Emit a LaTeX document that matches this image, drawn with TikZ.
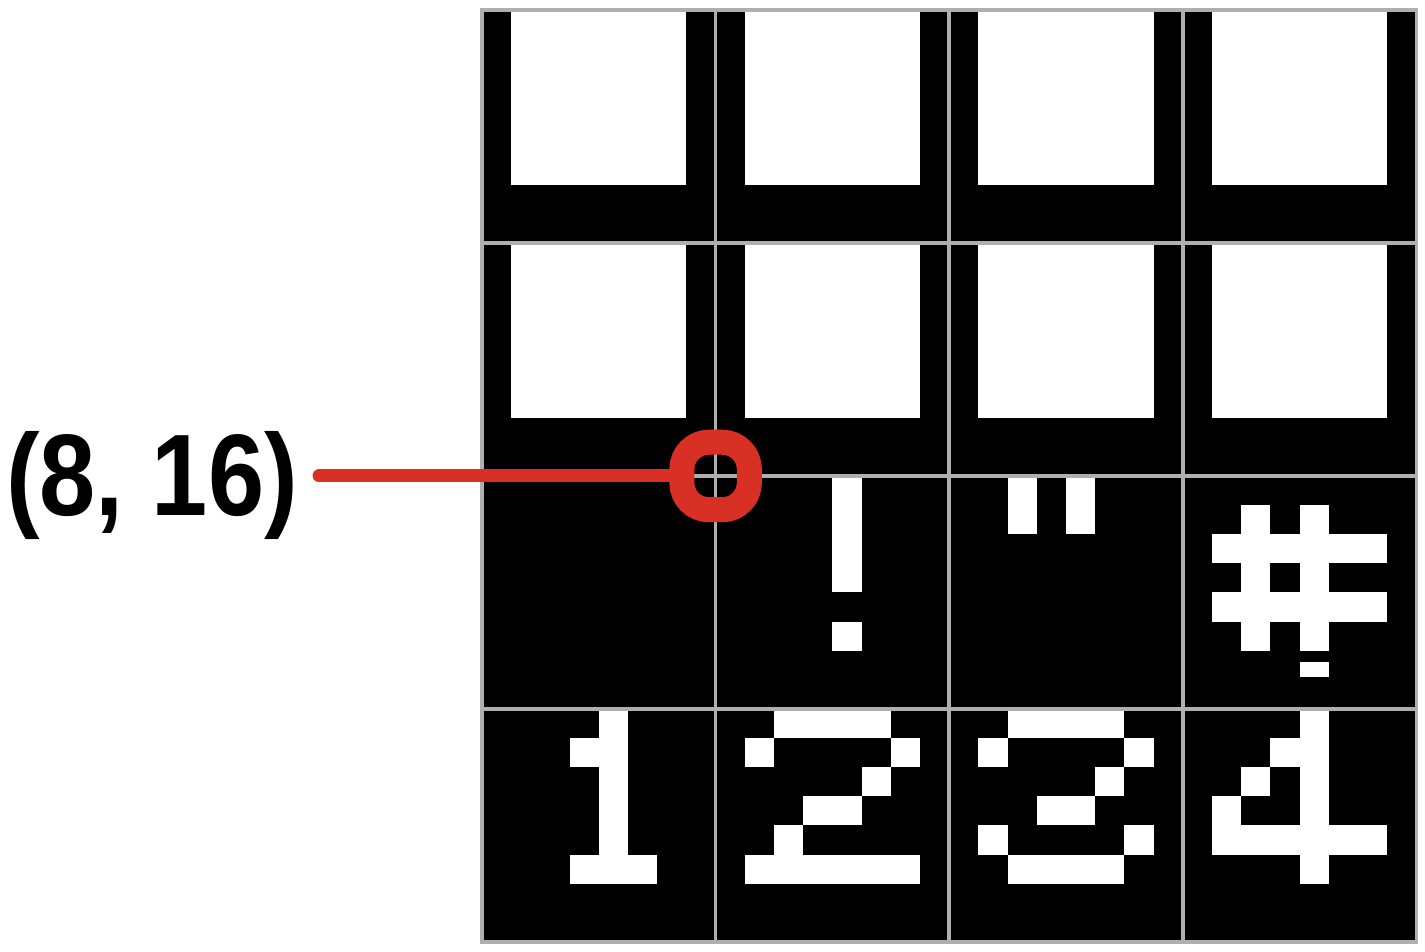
\documentclass[tikz,border=0pt]{standalone}
\usepackage{fontspec}
\newfontfamily\labelfont[FakeStretch=0.87]{Liberation Sans}
\definecolor{markred}{RGB}{217,48,37}
\definecolor{linegray}{RGB}{175,175,175}

\begin{document}
\begin{tikzpicture}[x=29.2pt,y=-29.125pt,
  pix/.style={fill=white},
  cellline/.style={draw=linegray,line width=3.5pt,line cap=rect}]
  \useasboundingbox (-16.507,-0.343) rectangle (32.295,32.343);
  \fill (0,0) rectangle (32,32);
  % two upper rows: blank blocks
  \foreach \i in {0,...,3}
    \foreach \j in {0,1}
      \fill[pix] (8*\i+1,8*\j) rectangle ++(6,6);
  % third row: space ! " #
  \fill[pix] (12,16) rectangle ++(1,4);
  \fill[pix] (12,21) rectangle ++(1,1);
  \fill[pix] (18,16) rectangle ++(1,2);
  \fill[pix] (20,16) rectangle ++(1,2);
  \fill[pix] (26,17) rectangle ++(1,5);
  \fill[pix] (28,17) rectangle ++(1,5);
  \fill[pix] (25,18) rectangle ++(6,1);
  \fill[pix] (25,20) rectangle ++(6,1);
  \fill[pix] (28,22.4) rectangle (29,22.9);
  % fourth row: 1 2 3 4
  \fill[pix] (4,24) rectangle ++(1,6);
  \fill[pix] (3,25) rectangle ++(1,1);
  \fill[pix] (3,29) rectangle ++(3,1);
  \fill[pix] (10,24) rectangle ++(4,1);
  \fill[pix] (9,25) rectangle ++(1,1);
  \fill[pix] (14,25) rectangle ++(1,1);
  \fill[pix] (13,26) rectangle ++(1,1);
  \fill[pix] (11,27) rectangle ++(2,1);
  \fill[pix] (10,28) rectangle ++(1,1);
  \fill[pix] (9,29) rectangle ++(6,1);
  \fill[pix] (18,24) rectangle ++(4,1);
  \fill[pix] (17,25) rectangle ++(1,1);
  \fill[pix] (22,25) rectangle ++(1,1);
  \fill[pix] (21,26) rectangle ++(1,1);
  \fill[pix] (19,27) rectangle ++(2,1);
  \fill[pix] (17,28) rectangle ++(1,1);
  \fill[pix] (22,28) rectangle ++(1,1);
  \fill[pix] (18,29) rectangle ++(4,1);
  \fill[pix] (28,24) rectangle ++(1,6);
  \fill[pix] (27,25) rectangle ++(1,1);
  \fill[pix] (26,26) rectangle ++(1,1);
  \fill[pix] (25,27) rectangle ++(1,1);
  \fill[pix] (25,28) rectangle ++(6,1);
  % cell borders
  \foreach \k in {0,8,...,32} {
    \draw[cellline] (\k,0) -- (\k,32);
    \draw[cellline] (0,\k) -- (32,\k);
  }
  % marker
  \node[anchor=base east,inner sep=0pt,
    font=\labelfont\bfseries\fontsize{116}{120}\selectfont] (lbl) at (-6.30,17.34) {(8, 16)};
  \coordinate (lblend) at (-5.58,16);
  \node[draw=markred,line width=25pt,rounded corners=27pt,
    minimum size=67.5pt,inner sep=0pt] (ring) at (8,16) {};
  \draw[markred,line width=13pt,line cap=round] (lblend) -- (ring.west);
\end{tikzpicture}
\end{document}
